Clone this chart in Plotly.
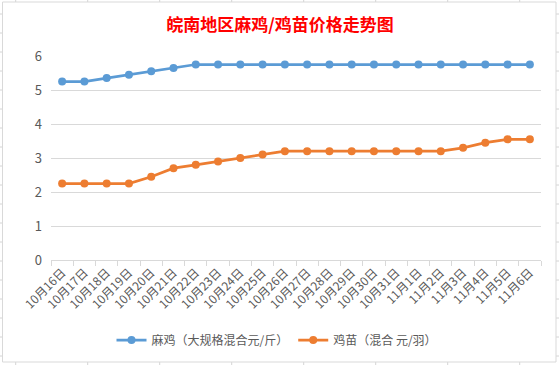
import plotly.graph_objects as go

dates = ["10月16日", "10月17日", "10月18日", "10月19日", "10月20日", "10月21日", "10月22日",
         "10月23日", "10月24日", "10月25日", "10月26日", "10月27日", "10月28日", "10月29日",
         "10月30日", "10月31日", "11月1日", "11月2日", "11月3日", "11月4日", "11月5日", "11月6日"]
chicken = [5.25, 5.25, 5.35, 5.45, 5.55, 5.65, 5.75, 5.75, 5.75, 5.75, 5.75,
           5.75, 5.75, 5.75, 5.75, 5.75, 5.75, 5.75, 5.75, 5.75, 5.75, 5.75]
chicks = [2.25, 2.25, 2.25, 2.25, 2.45, 2.7, 2.8, 2.9, 3.0, 3.1, 3.2,
          3.2, 3.2, 3.2, 3.2, 3.2, 3.2, 3.2, 3.3, 3.45, 3.55, 3.55]
series_names = ["麻鸡（大规格混合元/斤）", "鸡苗（混合 元/羽）"]
title_text = "皖南地区麻鸡/鸡苗价格走势图"

W, H = 559, 365
ML, MR, MT, MB = 51, 18, 56, 105
PW, PH = W - ML - MR, H - MT - MB

def px(x):
    return (x - ML) / PW

def py(y):
    return (H - MB - y) / PH

FONT = "Noto Sans CJK SC, Microsoft YaHei, sans-serif"
GRAY = "#595959"
GRID = "#D9D9D9"

fig = go.Figure()
fig.add_trace(go.Scatter(x=dates, y=chicken, mode="lines+markers", name=series_names[0],
                         line=dict(color="#5B9BD5", width=2.75),
                         marker=dict(color="#5B9BD5", size=8)))
fig.add_trace(go.Scatter(x=dates, y=chicks, mode="lines+markers", name=series_names[1],
                         line=dict(color="#ED7D31", width=2.75),
                         marker=dict(color="#ED7D31", size=8)))

shapes = []
SHEET = "#D4D4D4"
# spreadsheet grid behind the chart
for k in range(9):
    x = 15.7 + 72 * k
    shapes.append(dict(type="line", xref="paper", yref="paper", x0=px(x), x1=px(x),
                       y0=py(0), y1=py(H), line=dict(color=SHEET, width=1), layer="below"))
for k in range(20):
    y = 14 + 19 * k
    shapes.append(dict(type="line", xref="paper", yref="paper", x0=px(0), x1=px(W),
                       y0=py(y), y1=py(y), line=dict(color=SHEET, width=1), layer="below"))
# chart box
shapes.append(dict(type="rect", xref="paper", yref="paper", x0=px(2.5), x1=px(556),
                   y0=py(362), y1=py(2), fillcolor="white",
                   line=dict(color=GRID, width=1), layer="below"))

fig.update_layout(
    width=W, height=H,
    margin=dict(l=ML, r=MR, t=MT, b=MB, autoexpand=False),
    paper_bgcolor="white", plot_bgcolor="rgba(0,0,0,0)",
    shapes=shapes,
    title=dict(text=title_text, x=px(280), xanchor="center", xref="paper",
               y=1 - 25 / H, yanchor="middle",
               font=dict(family=FONT, size=17, color="#FF0000", weight="bold")),
    font=dict(family=FONT, size=12, color=GRAY),
    showlegend=True,
    legend=dict(orientation="h", x=px(277), xanchor="center", y=py(340), yanchor="middle",
                font=dict(family=FONT, size=12, color=GRAY), itemwidth=30,
                bgcolor="rgba(0,0,0,0)"),
    xaxis=dict(type="category", range=[-0.5, len(dates) - 0.5], tickangle=-45,
               showgrid=False, showline=True, linecolor=GRID, linewidth=1,
               ticks="outside", tickson="boundaries", ticklen=5, tickcolor=GRID,
               tickfont=dict(family=FONT, size=12, color=GRAY), zeroline=False),
    yaxis=dict(range=[0, 6], dtick=1, showgrid=True, gridcolor=GRID, gridwidth=1,
               zeroline=False, showline=False, ticks="", ticklabelstandoff=8,
               tickfont=dict(family=FONT, size=13, color=GRAY)),
)

fig.write_html("out.html", config={"displayModeBar": False},
               post_script="document.body.style.margin='0px';")
